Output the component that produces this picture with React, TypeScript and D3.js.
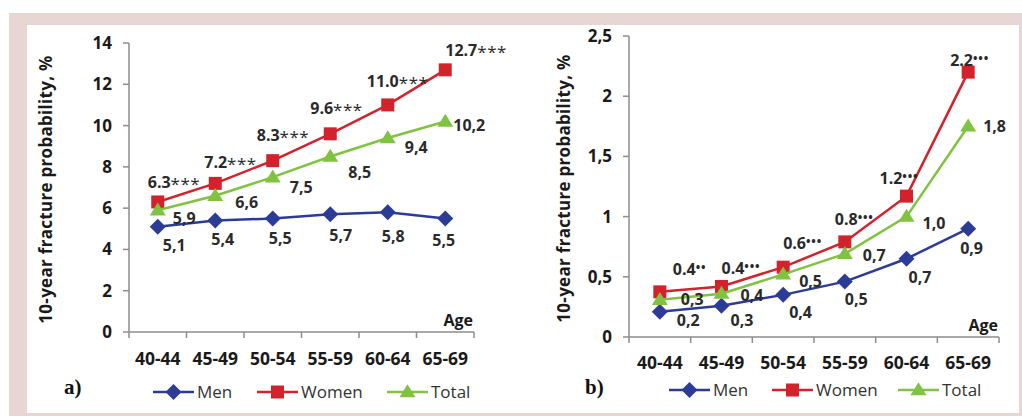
import React from 'react';
import * as d3 from 'd3';

// age groups shared by both panels
const ageGroups = ['40-44', '45-49', '50-54', '55-59', '60-64', '65-69'];

// panel a) values, %
const menA = [5.1, 5.4, 5.5, 5.7, 5.8, 5.5];
const womenA = [6.3, 7.2, 8.3, 9.6, 11.0, 12.7];
const totalA = [5.9, 6.6, 7.5, 8.5, 9.4, 10.2];
const menLabelsA = ['5,1', '5,4', '5,5', '5,7', '5,8', '5,5'];
const womenLabelsA = ['6.3', '7.2', '8.3', '9.6', '11.0', '12.7'];
const womenSigA = ['***', '***', '***', '***', '***', '***'];
const totalLabelsA = ['5,9', '6,6', '7,5', '8,5', '9,4', '10,2'];
const yTicksA = [0, 2, 4, 6, 8, 10, 12, 14];

// panel b) values, %
const menB = [0.21, 0.26, 0.35, 0.46, 0.65, 0.9];
const womenB = [0.375, 0.42, 0.58, 0.79, 1.17, 2.2];
const totalB = [0.31, 0.36, 0.52, 0.69, 1.0, 1.75];
const menLabelsB = ['0,2', '0,3', '0,4', '0,5', '0,7', '0,9'];
const womenLabelsB = ['0.4', '0.4', '0.6', '0.8', '1.2', '2.2'];
const womenSigB = ['••', '•••', '•••', '•••', '•••', '•••'];
const totalLabelsB = ['0,3', '0,4', '0,5', '0,7', '1,0', '1,8'];
const yTicksB = [0, 0.5, 1, 1.5, 2, 2.5];

// label nudges [dx from point to text start, dy from point to text middle]
const menNudgeA = [[5, 19], [-4, 19], [-4, 20], [-1, 21], [-6, 24], [-13, 22]];
const womenNudgeA = [[-10, -19], [-11, -21], [-16, -25], [-20, -25], [-21, -23], [0, -19]];
const totalNudgeA = [[15, 8], [20, 7], [17, 10], [18, 16], [17, 10], [8, 4]];
const menNudgeB = [[17, 9], [9, 15], [6, 18], [0, 18], [2, 19], [-8, 20]];
const womenNudgeB = [[13, -22], [0, -18], [0, -24], [-10, -22], [-27, -18], [-18, -12]];
const totalNudgeB = [[21, 0], [19, 2], [16, 7], [18, 2], [16, 7], [15, 0]];

const MEN = '#2c3c96';
const WOMEN = '#d2222b';
const TOTAL = '#80c241';
const AXIS = '#8c8c8c';
const FONT = '"Open Sans", Lato, sans-serif';

const marker = (kind: string, x: number, y: number, color: string, key?: any) => {
  if (kind === 'diamond') {
    const r = 8;
    return <path key={key} d={`M${x},${y - r}L${x + r},${y}L${x},${y + r}L${x - r},${y}Z`} fill={color} />;
  }
  if (kind === 'square') {
    const s = 13;
    return <rect key={key} x={x - s / 2} y={y - s / 2} width={s} height={s} fill={color} />;
  }
  const w = 8, h = 13;
  return <path key={key} d={`M${x},${y - h * 0.6}L${x + w},${y + h * 0.4}L${x - w},${y + h * 0.4}Z`} fill={color} />;
};

interface SeriesDef {
  values: number[];
  labels: string[];
  sig?: string[];
  sigStyle?: string;
  nudge: number[][];
  color: string;
  kind: string;
}

interface PanelProps {
  left: number;
  right: number;
  top: number;
  bottom: number;
  yMax: number;
  yTicks: number[];
  tickFmt: (v: number) => string;
  series: SeriesDef[];
  letter: string;
  letterX: number;
  titleX: number;
  legendX: number[];
  legendY: number;
  catY: number;
}

const Panel: React.FC<PanelProps> = (p) => {
  const x = d3.scaleBand().domain(ageGroups).range([p.left, p.right]).padding(0);
  const y = d3.scaleLinear().domain([0, p.yMax]).range([p.bottom, p.top]);
  const cx = (c: string) => (x(c) as number) + x.bandwidth() / 2;
  const line = d3
    .line<number>()
    .x((_, i) => cx(ageGroups[i]))
    .y((d) => y(d));

  const bounds = ageGroups.map((c) => x(c) as number).concat([p.right]);
  const legendNames = ['Men', 'Women', 'Total'];

  return (
    <g fontFamily={FONT}>
      {/* axes */}
      <line x1={p.left} x2={p.left} y1={p.top} y2={p.bottom} stroke={AXIS} strokeWidth={1.5} />
      <line x1={p.left} x2={p.right} y1={p.bottom} y2={p.bottom} stroke={AXIS} strokeWidth={1.5} />
      {p.yTicks.map((t) => (
        <g key={t}>
          <line x1={p.left - 6} x2={p.left} y1={y(t)} y2={y(t)} stroke={AXIS} strokeWidth={1.5} />
          <text x={p.left - 17} y={y(t) + 6} textAnchor="end" fontSize={17} fontWeight="bold" fill="#1a1a1a">
            {p.tickFmt(t)}
          </text>
        </g>
      ))}
      {bounds.map((b, i) => (
        <line key={i} x1={b} x2={b} y1={p.bottom} y2={p.bottom + 6} stroke={AXIS} strokeWidth={1.5} />
      ))}
      {ageGroups.map((c) => (
        <text key={c} x={cx(c)} y={p.catY} textAnchor="middle" fontSize={17.5} fontWeight="bold" fill="#1a1a1a">
          {c}
        </text>
      ))}
      <text x={p.right - 1} y={p.bottom - 6} textAnchor="end" fontSize={16} fontWeight="bold" fill="#1a1a1a">
        Age
      </text>
      <text
        transform={`translate(${p.titleX},${(p.top + p.bottom) / 2 + 2}) rotate(-90)`}
        textAnchor="middle"
        fontSize={17}
        letterSpacing={0.3}
        fontWeight="bold"
        fill="#1a1a1a"
      >
        10-year fracture probability, %
      </text>

      {/* series */}
      {p.series.map((s, si) => (
        <g key={si}>
          <path d={line(s.values) || ''} fill="none" stroke={s.color} strokeWidth={2.5} />
          {s.values.map((v, i) => marker(s.kind, cx(ageGroups[i]), y(v), s.color, i))}
        </g>
      ))}
      {p.series.map((s, si) =>
        s.values.map((v, i) => (
          <text
            key={`${si}-${i}`}
            x={cx(ageGroups[i]) + s.nudge[i][0]}
            y={y(v) + s.nudge[i][1] + 5.5}
            fontSize={16}
            fontWeight="bold"
            fill="#2a2a2a"
          >
            {s.labels[i]}
            {s.sig &&
              (s.sigStyle === 'dots' ? (
                <tspan fontSize={12} dy={-3} letterSpacing={0.8}>
                  {s.sig[i]}
                </tspan>
              ) : (
                <tspan fontSize={17} dy={2} letterSpacing={0.5} fontWeight="normal">
                  {s.sig[i]}
                </tspan>
              ))}
          </text>
        ))
      )}

      {/* legend */}
      {p.series.map((s, si) => {
        const lx = p.legendX[si];
        return (
          <g key={si}>
            <line x1={lx} x2={lx + 41} y1={p.legendY} y2={p.legendY} stroke={s.color} strokeWidth={2.5} />
            {marker(s.kind, lx + 20.5, p.legendY, s.color)}
            <text x={lx + 44} y={p.legendY + 6} fontSize={17} fill="#333">
              {legendNames[si]}
            </text>
          </g>
        );
      })}
      <text x={p.letterX} y={394} fontSize={21} fontWeight="bold" fontFamily='"Liberation Serif", serif' fill="#111">
        {p.letter}
      </text>
    </g>
  );
};

const commaFmt = (v: number) => String(v).replace('.', ',');

export default function App() {
  return (
    <svg width={1022} height={416} style={{ position: 'absolute', left: 0, top: 0 }}>
      <rect x={0} y={0} width={1022} height={416} fill="#fff" />
      <rect x={9} y={13} width={1013} height={403} fill="#e8d6d4" />
      <rect x={27} y={25} width={992} height={388} fill="#fff" />
      <Panel
        left={129}
        right={474}
        top={43}
        bottom={332}
        yMax={14}
        yTicks={yTicksA}
        tickFmt={(v) => String(v)}
        series={[
          { values: menA, labels: menLabelsA, nudge: menNudgeA, color: MEN, kind: 'diamond' },
          { values: womenA, labels: womenLabelsA, sig: womenSigA, sigStyle: 'stars', nudge: womenNudgeA, color: WOMEN, kind: 'square' },
          { values: totalA, labels: totalLabelsA, nudge: totalNudgeA, color: TOTAL, kind: 'triangle' },
        ]}
        letter="a)"
        letterX={64}
        titleX={52}
        legendX={[153, 257, 387]}
        legendY={392}
        catY={365}
      />
      <Panel
        left={629}
        right={999}
        top={36}
        bottom={337}
        yMax={2.5}
        yTicks={yTicksB}
        tickFmt={commaFmt}
        series={[
          { values: menB, labels: menLabelsB, nudge: menNudgeB, color: MEN, kind: 'diamond' },
          { values: womenB, labels: womenLabelsB, sig: womenSigB, sigStyle: 'dots', nudge: womenNudgeB, color: WOMEN, kind: 'square' },
          { values: totalB, labels: totalLabelsB, nudge: totalNudgeB, color: TOTAL, kind: 'triangle' },
        ]}
        letter="b)"
        letterX={585}
        titleX={570}
        legendX={[669, 772, 898]}
        legendY={390}
        catY={369}
      />
    </svg>
  );
}
